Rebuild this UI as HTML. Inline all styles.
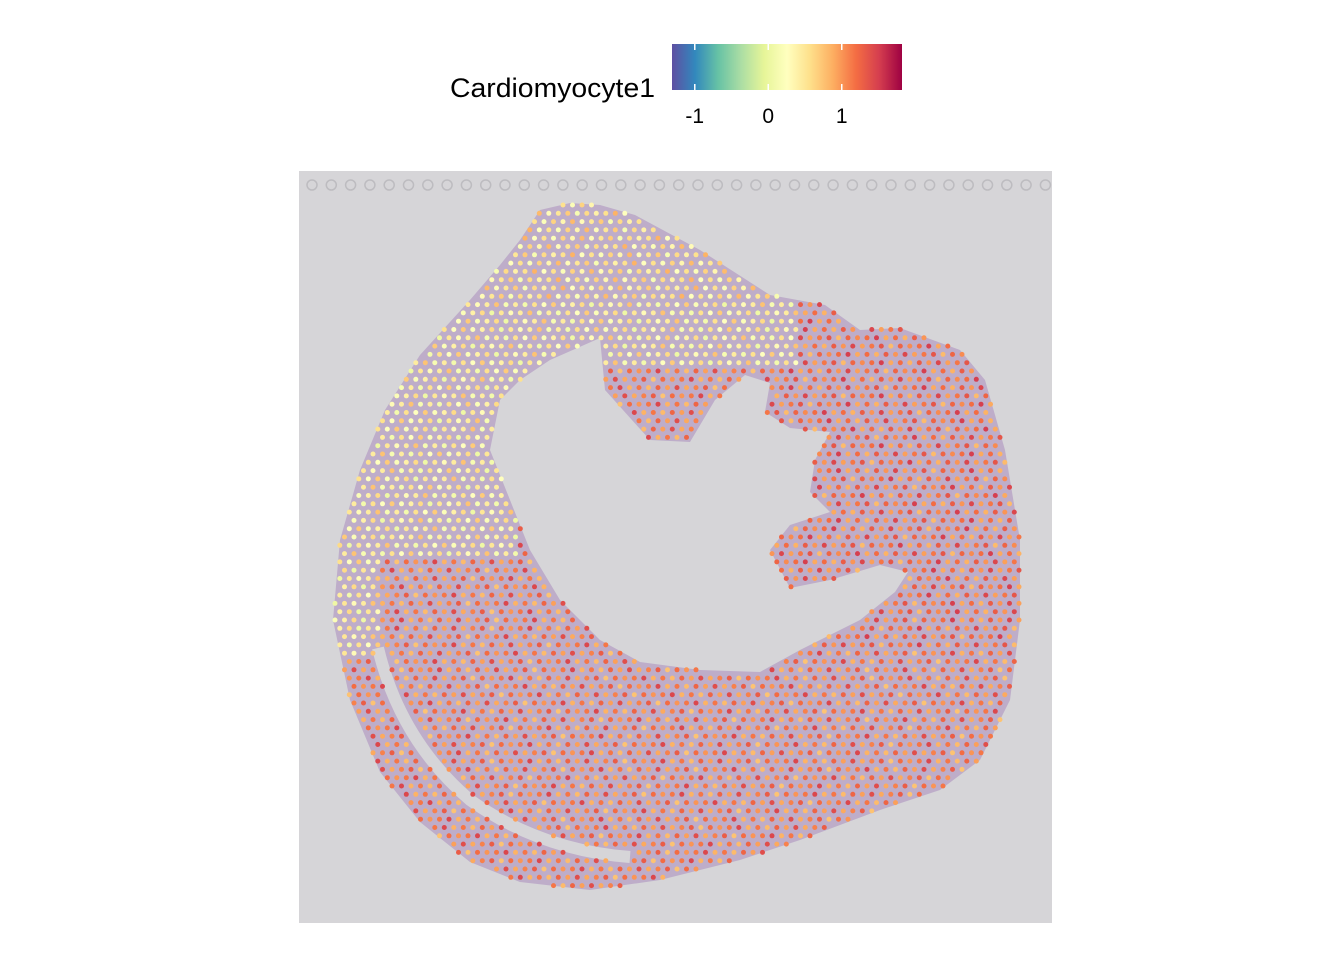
<!DOCTYPE html>
<html><head><meta charset="utf-8"><style>
html,body{margin:0;padding:0;background:#fff;width:1344px;height:960px;overflow:hidden}
svg{display:block;font-family:"Liberation Sans",sans-serif}
</style></head><body>
<svg id="chart" width="1344" height="960" viewBox="0 0 1344 960">
<defs>
<linearGradient id="spec" x1="0" x2="1" y1="0" y2="0">
<stop offset="0" stop-color="#5e4fa2"/><stop offset="0.1" stop-color="#3288bd"/><stop offset="0.2" stop-color="#66c2a5"/><stop offset="0.3" stop-color="#abdda4"/><stop offset="0.4" stop-color="#e6f598"/><stop offset="0.5" stop-color="#ffffbf"/><stop offset="0.6" stop-color="#fee08b"/><stop offset="0.7" stop-color="#fdae61"/><stop offset="0.8" stop-color="#f46d43"/><stop offset="0.9" stop-color="#d53e4f"/><stop offset="1" stop-color="#9e0142"/>
</linearGradient>
</defs>
<g>
<text x="450" y="97" font-size="27" textLength="205" lengthAdjust="spacingAndGlyphs" fill="#000">Cardiomyocyte1</text>
<rect x="672" y="44" width="230" height="46" fill="url(#spec)"/>
<g id="cbticks"></g>
</g>
<rect x="299" y="171" width="753" height="752" fill="#d6d5d8"/>
<g id="fiducials"></g>
<path id="tissue" fill-rule="evenodd" fill="#b8a2c6" opacity="0.8" d="M540,210 L570,203 L600,205 L635,215 L700,250 L770,295 L825,305 L860,330 L900,328 L960,350 L985,380 L1005,450 L1020,540 L1020,620 L1010,700 L980,760 L940,790 L880,810 L800,840 L740,860 L660,880 L590,890 L520,882 L470,862 L420,822 L380,772 L350,700 L333,620 L340,540 L360,470 L385,410 L420,355 L470,300 L500,265 L520,240 Z M550,360 L600,338 L605,390 L650,440 L690,442 L715,400 L745,375 L770,383 L765,412 L790,428 L830,432 L815,460 L810,492 L830,512 L790,525 L770,550 L790,588 L830,580 L880,565 L908,572 L895,592 L860,620 L800,650 L760,672 L700,670 L640,662 L600,640 L560,600 L530,550 L510,500 L490,450 L500,400 L520,380 Z"/>
<path id="gap" d="M378,648 Q400,740 470,800 Q540,850 630,857" fill="none" stroke="#d6d5d8" stroke-width="12"/>
<g id="spots"></g>
</svg>
<script>
const tickValues = [-1, 0, 1];
const tickLabels = ["-1", "0", "1"];
const scaleMin = -1.31, scaleMax = 1.82;
const zoneNames = ["upper-left-wall", "right-wall", "lower-wall", "top-flap"];
const zoneScores = [0.35, 1.1, 1.05, 0.45];
const spotJitter = [0.1, -0.25, 0.2, -0.1, 0.35, -0.15, 0.05, 0.25, -0.3, 0.15, -0.05, 0.1, 0.4, -0.2];
const colors = ["#5e4fa2","#3288bd","#66c2a5","#abdda4","#e6f598","#ffffbf","#fee08b","#fdae61","#f46d43","#d53e4f","#9e0142"];
const NS = "http://www.w3.org/2000/svg";
function xLegend(v){ return 672 + (v - scaleMin) / (scaleMax - scaleMin) * 230; }
function hex(c){ return [1,3,5].map(i=>parseInt(c.substr(i,2),16)); }
function colorOf(v){
  let t = Math.max(0, Math.min(1, (v - scaleMin) / (scaleMax - scaleMin))) * 10;
  const i = Math.min(9, Math.floor(t)), f = t - i;
  const a = hex(colors[i]), b = hex(colors[i+1]);
  return "rgb(" + a.map((x,k)=>Math.round(x + (b[k]-x)*f)).join(",") + ")";
}
const cb = document.getElementById("cbticks");
tickValues.forEach((v,i)=>{
  const x = xLegend(v);
  [[44,50],[84,90]].forEach(([y1,y2])=>{
    const l = document.createElementNS(NS,"line");
    l.setAttribute("x1",x); l.setAttribute("x2",x); l.setAttribute("y1",y1); l.setAttribute("y2",y2);
    l.setAttribute("stroke","#fff"); l.setAttribute("stroke-width","1.5");
    
    
    cb.appendChild(l);
  });
  const t = document.createElementNS(NS,"text");
  t.setAttribute("x",x); t.setAttribute("y",123); t.setAttribute("text-anchor","middle");
  t.setAttribute("font-size","21"); t.textContent = tickLabels[i];
  
  
  cb.appendChild(t);
});
const fid = document.getElementById("fiducials");
for (let x = 312; x < 1050; x += 19.3) {
  const c = document.createElementNS(NS,"circle");
  c.setAttribute("cx",x); c.setAttribute("cy",185); c.setAttribute("r",5);
  c.setAttribute("fill","none"); c.setAttribute("stroke","#bdbcc0"); c.setAttribute("stroke-width","1.5");
  
  
  fid.appendChild(c);
}
function zoneOf(x,y){
  if (y < 300) return 3;
  if ((x < 520 && y < 560) || (x < 380 && y < 660) || (x < 600 && y < 400) || (x < 800 && y < 365)) return 0;
  if (x > 760 && y < 650) return 1;
  return 2;
}
const tissue = document.getElementById("tissue");
const gap = document.getElementById("gap");
const g = document.getElementById("spots");
let k = 0;
for (let row = 0; row * 8.3 + 205 < 895; row++) {
  const y = 205 + row * 8.3;
  for (let x = 335 + (row % 2) * 4.75; x < 1025; x += 9.5) {
    const p = new DOMPoint(x, y);
    if (!tissue.isPointInFill(p)) continue;
    if (gap.isPointInStroke(p)) continue;
    const z = zoneOf(x,y);
    const v = zoneScores[z] + spotJitter[k++ % spotJitter.length];
    const c = document.createElementNS(NS,"circle");
    c.setAttribute("cx",x.toFixed(1)); c.setAttribute("cy",y.toFixed(1)); c.setAttribute("r",2.5);
    c.setAttribute("fill",colorOf(v));
    
    
    g.appendChild(c);
  }
}
</script>
</body></html>
